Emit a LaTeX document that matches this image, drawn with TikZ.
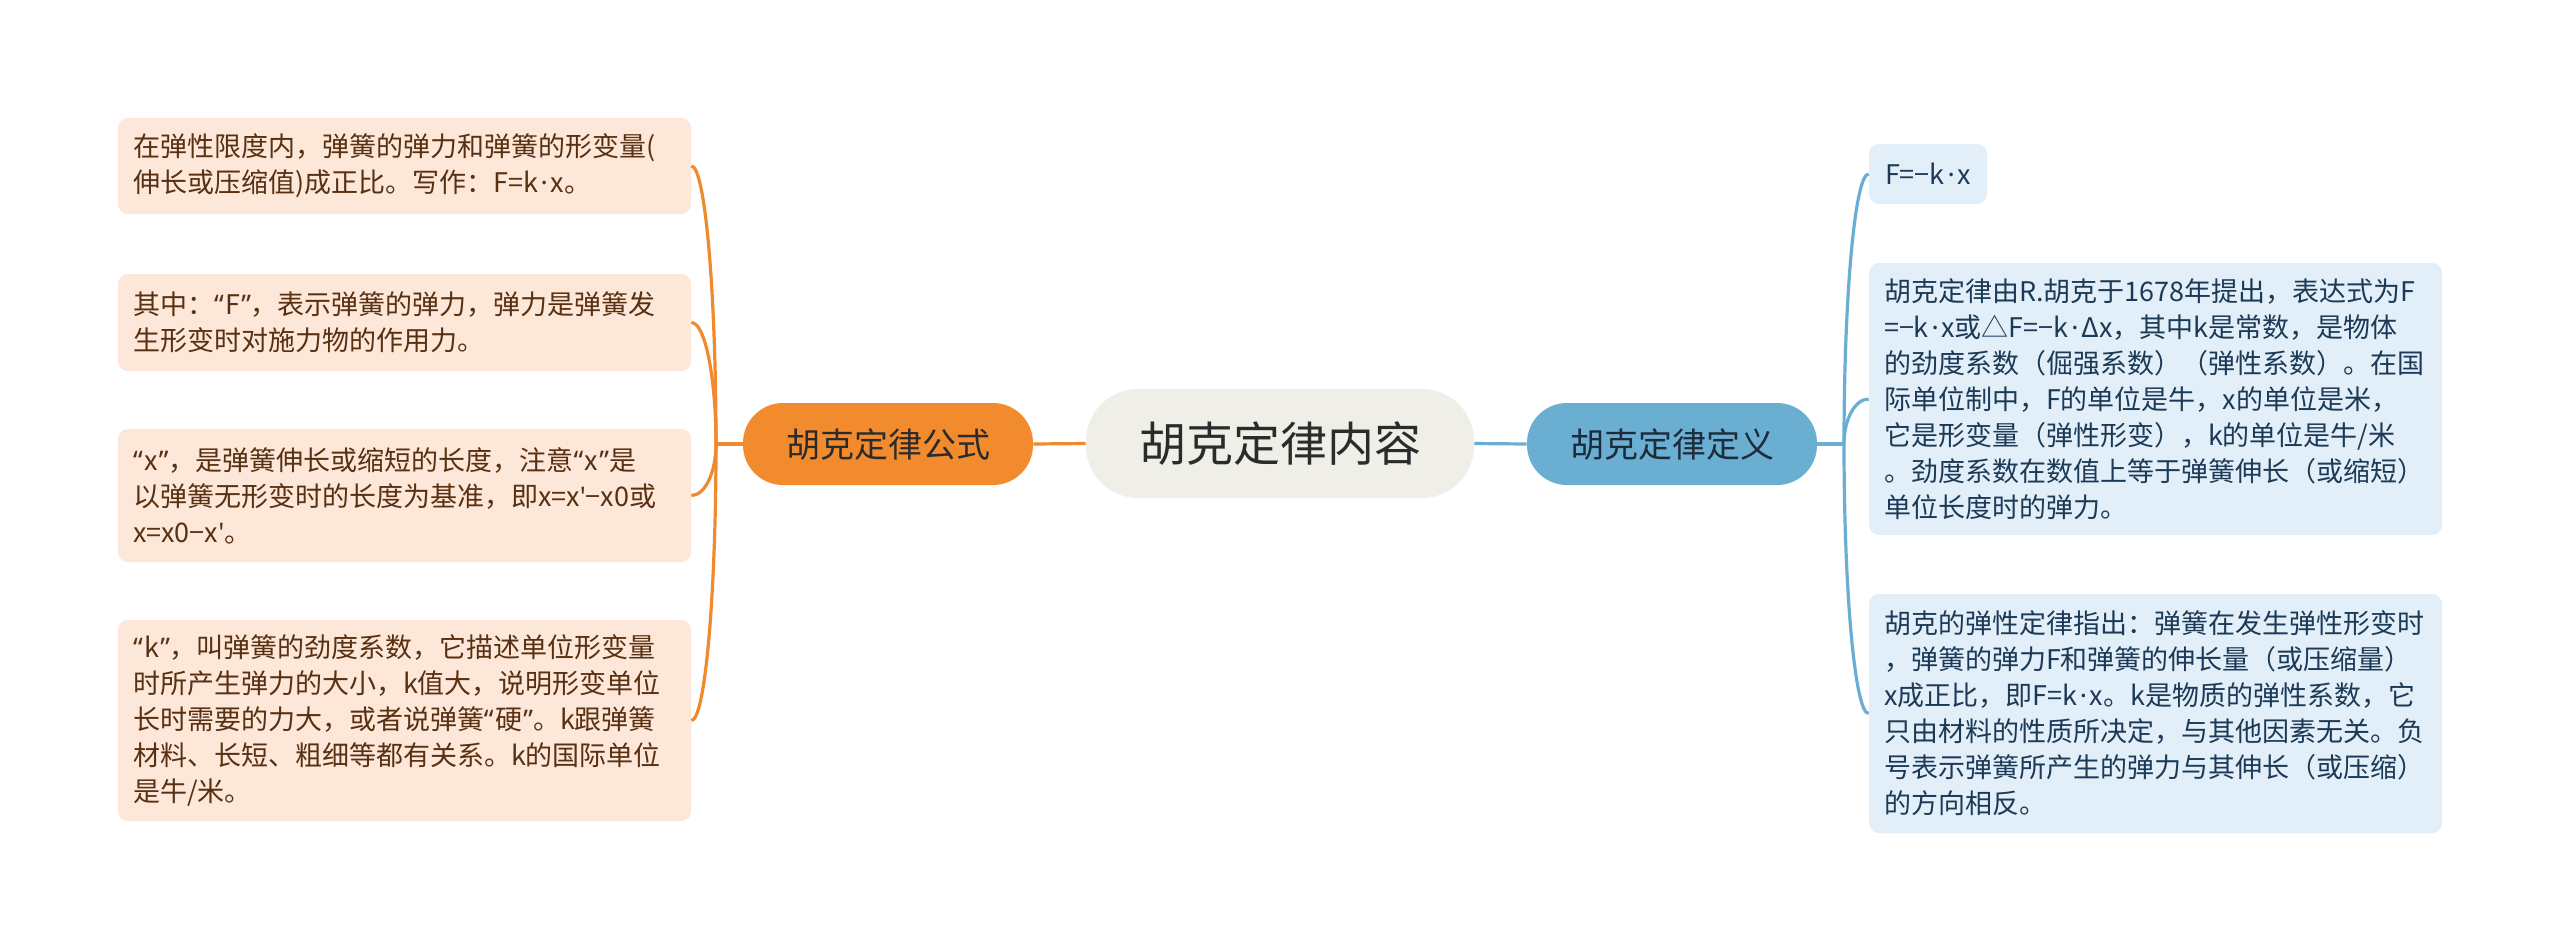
\documentclass[tikz,border=0pt]{standalone}
\usepackage{fontspec}
\usetikzlibrary{calc}
\setmainfont{Noto Sans CJK SC}
\newfontfamily\latfont{Noto Sans}
\newcommand\LQ{{\latfont “\hspace{0.05em}}}
\newcommand\RQ{{\latfont \hspace{0.05em}”}}
\newcommand\MD{{\latfont \hspace{0.1em}·\hspace{0.1em}}}
\newcommand\AP{{\latfont '}}
\definecolor{oline}{RGB}{240,138,45}
\definecolor{onode}{RGB}{242,139,46}
\definecolor{lfill}{RGB}{253,231,216}
\definecolor{ltext}{RGB}{88,48,18}
\definecolor{cfill}{RGB}{239,239,231}
\definecolor{ctext}{RGB}{43,43,43}
\definecolor{bline}{RGB}{106,175,211}
\definecolor{bnode}{RGB}{106,174,209}
\definecolor{btext}{RGB}{29,43,58}
\definecolor{rfill}{RGB}{226,239,248}
\definecolor{rtext}{RGB}{28,58,87}
\tikzset{
  boxbase/.style={rectangle, rounded corners=5pt, align=left, inner xsep=7.5pt, inner ysep=0pt,
    font=\fontsize{13.5pt}{18pt}\selectfont, text width=271.5pt},
  lbox/.style={boxbase, fill=lfill, text=ltext},
  rbox/.style={boxbase, fill=rfill, text=rtext},
  fbox/.style={rectangle, rounded corners=5pt, fill=rfill, text=rtext, inner sep=0pt,
    font=\fontsize{13.5pt}{18pt}\selectfont, minimum width=59pt, minimum height=30pt},
  mainnode/.style={rectangle, rounded corners=26pt, fill=cfill, text=ctext, inner sep=0pt,
    minimum width=194pt, minimum height=54.5pt, font=\fontsize{23.5pt}{28pt}\selectfont},
  onodestyle/.style={rectangle, rounded corners=20pt, fill=onode, text=ctext, inner sep=0pt,
    minimum width=145pt, minimum height=41pt, font=\fontsize{17pt}{20pt}\selectfont},
  bnodestyle/.style={rectangle, rounded corners=20pt, fill=bnode, text=btext, inner sep=0pt,
    minimum width=145pt, minimum height=41pt, font=\fontsize{17pt}{20pt}\selectfont},
  oconn/.style={draw=oline, line width=1.6pt},
  bconn/.style={draw=bline, line width=1.6pt},
}
\begin{document}
\begin{tikzpicture}[x=0.5pt,y=-0.5pt]
\useasboundingbox[fill=white] (0,0) rectangle (2560,950);

% central and branch nodes
\node[mainnode] (c) at (1280,443.5) {胡克定律内容};
\node[onodestyle] (o) at (888,444) {胡克定律公式};
\node[bnodestyle] (b) at (1672,444) {胡克定律定义};

% left boxes
\node[lbox, minimum height=48pt] (l1) at (404.5,166) {在弹性限度内，弹簧的弹力和弹簧的形变量(\\伸长或压缩值)成正比。写作：F=k\MD x。};
\node[lbox, minimum height=48.5pt] (l2) at (404.5,322.5) {其中：\LQ F\RQ，表示弹簧的弹力，弹力是弹簧发\\生形变时对施力物的作用力。};
\node[lbox, minimum height=66.5pt] (l3) at (404.5,495.5) {\LQ x\RQ，是弹簧伸长或缩短的长度，注意\LQ x\RQ 是\\以弹簧无形变时的长度为基准，即x=x\AP−x0或\\x=x0−x\AP。};
\node[lbox, minimum height=100.5pt] (l4) at (404.5,720.5) {\LQ k\RQ，叫弹簧的劲度系数，它描述单位形变量\\时所产生弹力的大小，k值大，说明形变单位\\长时需要的力大，或者说弹簧\LQ 硬\RQ。k跟弹簧\\材料、长短、粗细等都有关系。k的国际单位\\是牛/米。};

% right boxes
\node[fbox] (r1) at (1928,174) {F=−k\MD x};
\node[rbox, minimum height=136pt] (r2) at (2155.5,399) {胡克定律由R.胡克于1678年提出，表达式为F\\=−k\MD x或△F=−k\MD Δx，其中k是常数，是物体\\的劲度系数（倔强系数）（弹性系数）。在国\\际单位制中，F的单位是牛，x的单位是米，\\它是形变量（弹性形变），k的单位是牛/米\\。劲度系数在数值上等于弹簧伸长（或缩短）\\单位长度时的弹力。};
\node[rbox, minimum height=119.5pt] (r3) at (2155.5,713.5) {胡克的弹性定律指出：弹簧在发生弹性形变时\\，弹簧的弹力F和弹簧的伸长量（或压缩量）\\x成正比，即F=k\MD x。k是物质的弹性系数，它\\只由材料的性质所决定，与其他因素无关。负\\号表示弹簧所产生的弹力与其伸长（或压缩）\\的方向相反。};

% junctions
\coordinate (jl) at (716,444);
\coordinate (jr) at (1844,444);

% center connectors
\draw[oconn] (c.west) -- (o.east);
\draw[bconn] (c.east) -- (b.west);
\draw[oconn] (o.west) -- (jl);
\draw[bconn] (b.east) -- (jr);

% left curves (quarter-ellipse)
\foreach \n in {l1,l2,l3,l4}{
  \draw[oconn] (jl) .. controls ($(jl)!0.552!(jl|-\n.east)$) and ($(\n.east)!0.552!(jl|-\n.east)$) .. (\n.east);
}
% right curves
\foreach \n in {r1,r2,r3}{
  \draw[bconn] (jr) .. controls ($(jr)!0.552!(jr|-\n.west)$) and ($(\n.west)!0.552!(jr|-\n.west)$) .. (\n.west);
}
\end{tikzpicture}
\end{document}
